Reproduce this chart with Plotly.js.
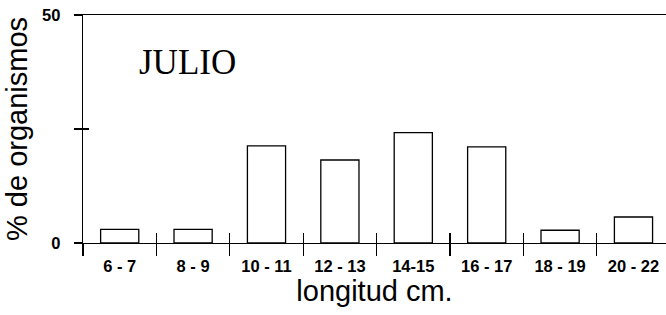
<!DOCTYPE html>
<html>
<head>
<meta charset="utf-8">
<script src="https://cdn.plot.ly/plotly-3.0.1.min.js"></script>
<style>html,body{margin:0;padding:0;background:#fff;}#chart{width:666px;height:315px;}</style>
</head>
<body>
<div id="chart"></div>
<script>
var categories = ["6 - 7", "8 - 9", "10 - 11", "12 - 13", "14-15", "16 - 17", "18 - 19", "20 - 22"];
var percentages = [3.0, 3.0, 21.3, 18.2, 24.2, 21.1, 2.8, 5.7];
var boundaryTicks = [-0.5, 0.5, 1.5, 2.5, 3.5, 4.5, 5.5, 6.5, 7.5];
var yTickVals = [0, 25, 50];
var yTickText = ["0", "", "50"];
var monthLabel = "JULIO";

var xr = [-0.5, 7.443];
var traces = [
  {type: "bar", x: categories, y: percentages, width: 0.52,
   marker: {color: "#ffffff", line: {color: "#000000", width: 1.3}},
   hoverinfo: "none", showlegend: false},
  {type: "scatter", mode: "markers", x: [boundaryTicks[0]], y: [yTickVals[0]],
   marker: {size: 1, opacity: 0}, xaxis: "x2", yaxis: "y2", showlegend: false, hoverinfo: "none"}
];
var tickFont = {family: "Liberation Sans, Arial, sans-serif", size: 16.5, color: "#000", weight: "bold"};
var layout = {
  width: 666, height: 315,
  margin: {l: 83, r: 0, t: 15, b: 72},
  paper_bgcolor: "#fff", plot_bgcolor: "#fff",
  showlegend: false,
  xaxis: {type: "category", categoryarray: categories, range: xr,
    tickson: "boundaries", ticks: "outside", ticklen: 12, tickwidth: 1.2, tickcolor: "#000",
    ticklabelstandoff: 8,
    showline: true, linecolor: "#000", linewidth: 1.3, mirror: true,
    showgrid: false, zeroline: false, tickfont: tickFont,
    title: {text: "longitud cm.", font: {family: "Liberation Sans, Arial, sans-serif", size: 29, color: "#000"}, standoff: 2}},
  yaxis: {range: [0, 50], tickvals: yTickVals, ticktext: yTickText,
    ticks: "outside", ticklen: 8, tickwidth: 1.2, tickcolor: "#000",
    ticklabelstandoff: 10,
    showline: true, linecolor: "#000", linewidth: 1.3,
    showgrid: false, zeroline: false, tickfont: tickFont,
    title: {text: "% de organismos", font: {family: "Liberation Sans, Arial, sans-serif", size: 29, color: "#000"}, standoff: 6}},
  xaxis2: {overlaying: "x", anchor: "y2", range: xr, tickmode: "array", tickvals: boundaryTicks,
    ticks: "inside", ticklen: 10, tickwidth: 1.3, tickcolor: "#000",
    showticklabels: false, showline: false, showgrid: false, zeroline: false},
  yaxis2: {overlaying: "y", anchor: "x2", range: [0, 50], tickmode: "array", tickvals: [0, 25],
    ticks: "inside", ticklen: 6, tickwidth: 1.3, tickcolor: "#000",
    showticklabels: false, showline: false, showgrid: false, zeroline: false},
  annotations: [{text: monthLabel, xref: "paper", yref: "paper", x: 0.18, y: 0.79,
    xanchor: "center", yanchor: "middle", showarrow: false,
    font: {family: "Liberation Serif, Times New Roman, serif", size: 35, color: "#000"}}]
};
Plotly.newPlot("chart", traces, layout, {staticPlot: true, displayModeBar: false});
</script>
</body>
</html>
